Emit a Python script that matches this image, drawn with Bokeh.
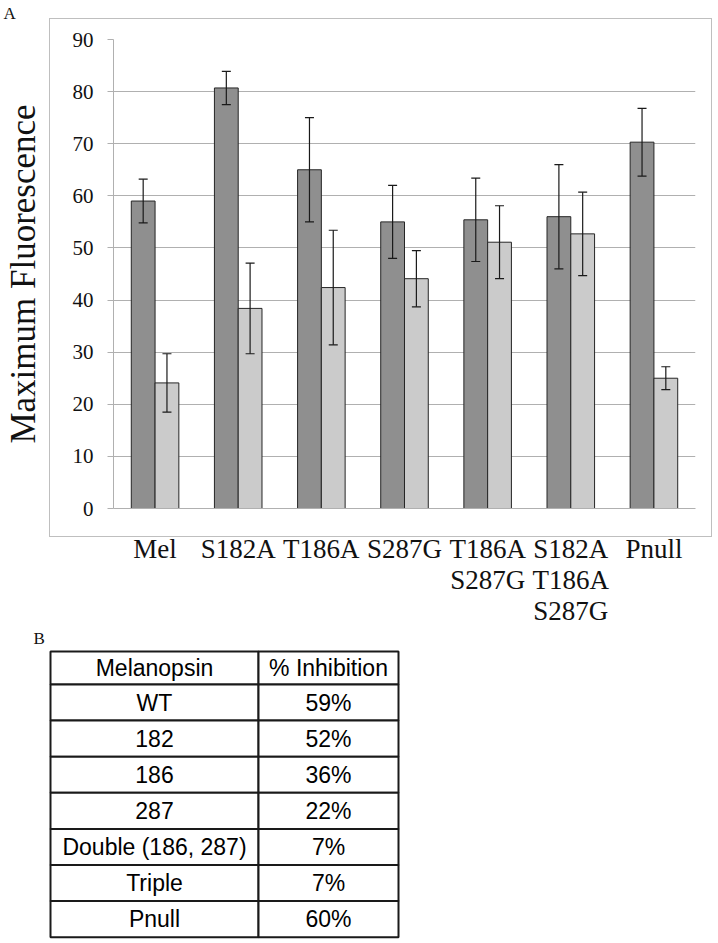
from bokeh.plotting import figure
from bokeh.models import (ColumnDataSource, FactorRange, Range1d, Whisker, TeeHead,
                          FixedTicker, InlineStyleSheet)
from bokeh.transform import dodge
from bokeh.embed import file_html
from bokeh.resources import INLINE
from bokeh.core.properties import value

# ---------------- data ----------------
mutants = ["Mel", "S182A", "T186A", "S287G", "T186A\nS287G", "S182A\nT186A\nS287G", "Pnull"]
dark_vals = [59.0, 80.7, 65.0, 55.0, 55.4, 56.0, 70.3]
dark_err = [4.2, 3.2, 10.0, 7.0, 8.0, 10.0, 6.5]
light_vals = [24.1, 38.4, 42.4, 44.1, 51.1, 52.7, 25.0]
light_err = [5.6, 8.7, 11.0, 5.4, 7.0, 8.0, 2.2]
y_ticks = [0, 10, 20, 30, 40, 50, 60, 70, 80, 90]

table_header = ["Melanopsin", "% Inhibition"]
table_names = ["WT", "182", "186", "287", "Double (186, 287)", "Triple", "Pnull"]
table_pct = ["59%", "52%", "36%", "22%", "7%", "7%", "60%"]

DARK = "#8f8f8f"
LIGHT = "#cbcbcb"
EDGE = "#262626"
GRID = "#b0b0b0"
SERIF = "Liberation Serif"
W = 716

# ---------------- panel letter A (header strip) ----------------
HH = 26
hdr = figure(x_range=Range1d(0, W), y_range=Range1d(HH, 0), width=W, height=HH,
             output_backend="svg", toolbar_location=None,
             x_axis_location=None, y_axis_location=None,
             min_border_left=0, min_border_right=0, min_border_top=0, min_border_bottom=0)
hdr.grid.visible = False
hdr.outline_line_color = None
hdr.text(x=[3], y=[13], text=["A"], text_font=value(SERIF), text_font_size="17px",
         text_baseline="middle", text_align="left", text_color="#111111")

# ---------------- chart A ----------------
src = ColumnDataSource(dict(
    cat=mutants,
    dark=dark_vals,
    dark_up=[v + e for v, e in zip(dark_vals, dark_err)],
    dark_lo=[v - e for v, e in zip(dark_vals, dark_err)],
    light=light_vals,
    light_up=[v + e for v, e in zip(light_vals, light_err)],
    light_lo=[v - e for v, e in zip(light_vals, light_err)],
))

box_css = InlineStyleSheet(css="""
:host { position: relative; overflow: visible; }
:host::after {
  content: "";
  position: absolute;
  left: 49px; top: -8px; width: 663px; height: 519px;
  box-sizing: border-box;
  border: 1.5px solid #bfbfbf;
  pointer-events: none;
}
""")

p = figure(x_range=FactorRange(*mutants, range_padding=0, factor_padding=0),
           y_range=Range1d(0, 90), width=W, height=602,
           output_backend="svg", toolbar_location=None, stylesheets=[box_css],
           min_border_left=108, min_border_right=21, min_border_top=13, min_border_bottom=111)

off = 0.143
bw = 0.286
p.vbar(x=dodge("cat", -off, range=p.x_range), top="dark", width=bw, source=src,
       fill_color=DARK, line_color=EDGE, line_width=1)
p.vbar(x=dodge("cat", off, range=p.x_range), top="light", width=bw, source=src,
       fill_color=LIGHT, line_color=EDGE, line_width=1)

for xo, up, lo in [(-off, "dark_up", "dark_lo"), (off, "light_up", "light_lo")]:
    w = Whisker(base=dodge("cat", xo, range=p.x_range), upper=up, lower=lo, source=src,
                line_color="#1a1a1a", line_width=1.2,
                upper_head=TeeHead(size=9, line_color="#1a1a1a", line_width=1.2),
                lower_head=TeeHead(size=9, line_color="#1a1a1a", line_width=1.2),
                level="overlay")
    p.add_layout(w)

p.xgrid.visible = False
p.ygrid.grid_line_color = GRID
p.ygrid.grid_line_width = 1
p.outline_line_color = None

p.yaxis.ticker = FixedTicker(ticks=y_ticks)
p.yaxis.axis_line_color = GRID
p.yaxis.major_tick_line_color = GRID
p.yaxis.major_tick_out = 6
p.yaxis.major_tick_in = 0
p.yaxis.minor_tick_line_color = None
p.yaxis.major_label_standoff = 14
p.yaxis.major_label_text_font = SERIF
p.yaxis.major_label_text_font_size = "21px"
p.yaxis.major_label_text_color = "#111111"
p.yaxis.axis_label = "Maximum Fluorescence"
p.yaxis.axis_label_text_font = SERIF
p.yaxis.axis_label_text_font_size = "35px"
p.yaxis.axis_label_text_font_style = "normal"
p.yaxis.axis_label_text_color = "#111111"
p.yaxis.axis_label_standoff = 27

p.xaxis.axis_line_color = GRID
p.xaxis.major_tick_line_color = None
p.xaxis.minor_tick_line_color = None
p.xaxis.major_label_standoff = 19
p.xaxis.major_label_text_font = SERIF
p.xaxis.major_label_text_font_size = "27px"
p.xaxis.major_label_text_line_height = 1.04
p.xaxis.major_label_text_color = "#111111"

# ---------------- table B ----------------
TW, TH = 420, 314
t = figure(x_range=Range1d(0, TW), y_range=Range1d(TH, 0), width=TW, height=TH,
           output_backend="svg", toolbar_location=None,
           x_axis_location=None, y_axis_location=None,
           min_border_left=0, min_border_right=0, min_border_top=0, min_border_bottom=0)
t.grid.visible = False
t.outline_line_color = None

tab_left, tab_split, tab_right = 50, 258, 398
tab_top, head_h, row_h = 23, 33, 36.1
n = len(table_names) + 1
tops = [tab_top] + [tab_top + head_h + i * row_h for i in range(n - 1)]
bots = [tab_top + head_h] + [tab_top + head_h + (i + 1) * row_h for i in range(n - 1)]
col1 = table_header[:1] + table_names
col2 = table_header[1:] + table_pct
cells = ColumnDataSource(dict(
    left=[tab_left] * n + [tab_split] * n,
    right=[tab_split] * n + [tab_right] * n,
    top=tops + tops,
    bottom=bots + bots,
    text=col1 + col2,
    xc=[(tab_left + tab_split) / 2] * n + [(tab_split + tab_right) / 2] * n,
    yc=[(a + b) / 2 for a, b in zip(tops, bots)] * 2,
))
t.quad(left="left", right="right", top="top", bottom="bottom", source=cells,
       fill_color="white", line_color="#1a1a1a", line_width=2)
t.text(x="xc", y="yc", text="text", source=cells, text_align="center",
       text_baseline="middle", text_font=value("Liberation Sans"),
       text_font_size="23px", text_color="#000000")
t.text(x=[33], y=[10], text=["B"], text_font=value(SERIF), text_font_size="17px",
       text_baseline="middle", text_align="left", text_color="#111111")

open("out.html", "w").write(file_html([hdr, p, t], INLINE))
